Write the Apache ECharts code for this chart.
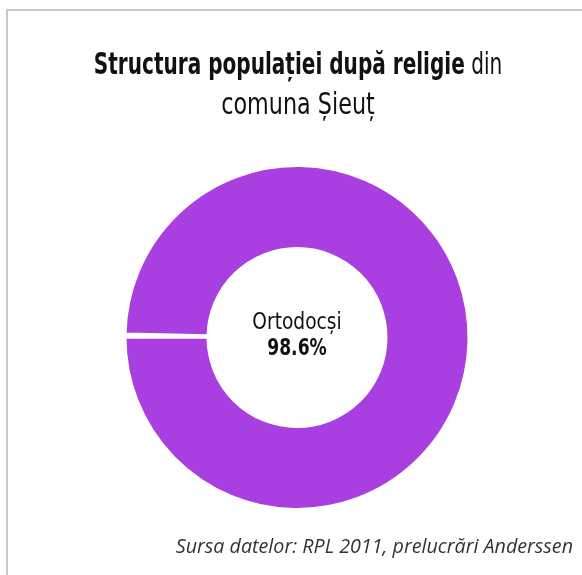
<!DOCTYPE html>
<html><head><meta charset="utf-8">
<script src="https://cdn.jsdelivr.net/npm/echarts@6/dist/echarts.min.js"></script>
<style>html,body{margin:0;padding:0;background:#fff}#c{width:582px;height:575px}</style>
</head><body><div id="c"></div>
<script>
const categories = ['Alte religii', 'Ortodocși'];
const values = [0.3, 98.6];
const colors = ['#ffffff', '#a93fe0'];
const titleBold = 'Structura populației după religie';
const titleRest = ' din';
const titleLine2 = 'comuna Șieuț';
const sourceText = 'Sursa datelor: RPL 2011, prelucrări Anderssen';
const condensed = '"DejaVu Sans Condensed", sans-serif';

const cx = 297, cy = 337.5;
const chart = echarts.init(document.getElementById('c'));
chart.setOption({
  animation: false,
  backgroundColor: '#fff',
  graphic: [
    {type: 'rect', shape: {x: 7, y: 10, width: 600, height: 600}, style: {fill: 'none', stroke: '#c8c8c8', lineWidth: 2}, silent: true},
    {type: 'text', x: 298, y: 51, scaleX: 0.743, style: {
      text: '{b|' + titleBold + '}{r|' + titleRest + '}',
      align: 'center', verticalAlign: 'top',
      rich: {
        b: {fontFamily: condensed, fontWeight: 'bold', fontSize: 30, fill: '#111'},
        r: {fontFamily: condensed, fontWeight: 'normal', fontSize: 30, fill: '#111'}
      }
    }},
    {type: 'text', x: 298, y: 91, scaleX: 0.826, style: {
      text: titleLine2, align: 'center', verticalAlign: 'top',
      font: 'normal 30px ' + condensed, fill: '#111'
    }},
    {type: 'text', x: cx, y: 323, scaleX: 0.9, style: {
      text: categories[1], align: 'center', verticalAlign: 'middle',
      font: 'normal 23px ' + condensed, fill: '#111'
    }},
    {type: 'text', x: cx, y: 349, scaleX: 0.83, style: {
      text: values[1] + '%', align: 'center', verticalAlign: 'middle',
      font: 'bold 23px ' + condensed, fill: '#111'
    }},
    {type: 'text', right: 9, top: 537, style: {text: sourceText, font: 'italic 19.7px "Open Sans", sans-serif', fill: '#333'}}
  ],
  series: [{
    type: 'pie',
    center: [cx, cy],
    radius: [89, 172],
    startAngle: 179.9,
    clockwise: true,
    avoidLabelOverlap: false,
    itemStyle: {borderColor: '#fff', borderWidth: 3},
    label: {show: false},
    labelLine: {show: false},
    data: categories.map((c, i) => ({
      name: c, value: values[i],
      itemStyle: {color: colors[i]}
    }))
  }]
});
</script></body></html>
